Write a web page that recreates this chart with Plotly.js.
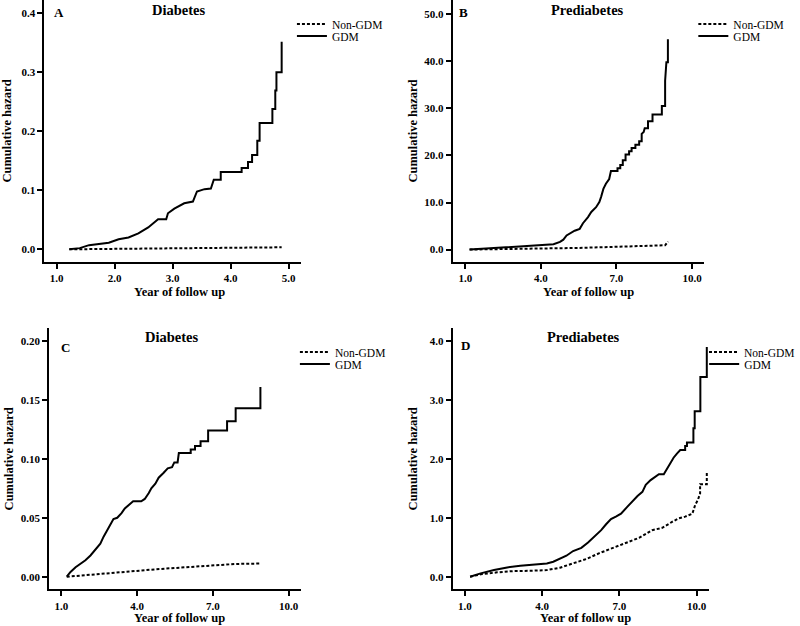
<!DOCTYPE html>
<html>
<head>
<meta charset="utf-8">
<script src="https://cdn.plot.ly/plotly-3.0.1.min.js"></script>
<style>html,body{margin:0;padding:0;background:#fff;}#chart{width:800px;height:626px;}</style>
</head>
<body>
<div id="chart"></div>
<script>
// Panel A: Diabetes (years 1-5)
const aGdmX = [1.22,1.40,1.56,1.75,1.90,2.07,2.24,2.41,2.58,2.75,2.89,2.92,3.03,3.20,3.35,3.42,3.55,3.66,3.71,3.83,3.83,4.19,4.19,4.30,4.30,4.37,4.37,4.46,4.46,4.50,4.50,4.72,4.72,4.77,4.77,4.79,4.79,4.88,4.88];
const aGdmY = [0,0.002,0.007,0.009,0.011,0.017,0.020,0.027,0.037,0.051,0.051,0.061,0.069,0.078,0.081,0.098,0.102,0.103,0.118,0.118,0.131,0.131,0.138,0.138,0.148,0.148,0.160,0.160,0.184,0.184,0.214,0.214,0.238,0.238,0.269,0.269,0.300,0.300,0.352];
const aNonX = [1.22,2.0,3.0,4.0,4.88];
const aNonY = [0,0.0008,0.0016,0.0025,0.0034];

// Panel B: Prediabetes (years 1-10)
const bGdmX = [1.17,1.63,2.28,2.93,3.58,4.23,4.50,4.76,4.89,5.02,5.21,5.34,5.54,5.67,5.87,6.00,6.19,6.32,6.39,6.48,6.58,6.71,6.78,7.04,7.04,7.15,7.15,7.25,7.25,7.36,7.36,7.50,7.50,7.60,7.60,7.75,7.75,7.90,7.90,8.00,8.00,8.08,8.12,8.25,8.25,8.43,8.43,8.80,8.80,8.93,8.93,8.98,9.04,9.04];
const bGdmY = [0,0.14,0.35,0.56,0.78,0.92,1.13,1.62,2.1,3.0,3.6,4.0,4.4,5.6,6.9,8.0,9.0,10.1,11.2,12.9,14.0,15.0,16.7,16.7,17.3,17.3,18.0,18.0,19.0,19.0,20.2,20.2,20.9,20.9,21.6,21.6,22.3,22.3,23.0,23.0,24.6,25.0,25.8,25.8,27.3,27.3,28.7,28.7,30.5,30.5,35.9,39.8,39.8,44.7];
const bNonX = [1.17,2.5,4.23,5.5,6.84,8.0,8.93,9.05];
const bNonY = [0,0.1,0.2,0.35,0.56,0.75,0.92,1.7];

// Panel C: Diabetes (years 1-10)
const cGdmX = [1.21,1.36,1.56,1.76,1.95,2.15,2.34,2.54,2.67,2.80,2.93,3.06,3.21,3.38,3.51,3.68,3.84,4.16,4.30,4.46,4.56,4.72,4.85,5.04,5.21,5.38,5.47,5.60,5.65,6.12,6.12,6.29,6.29,6.51,6.51,6.81,6.81,7.56,7.56,7.90,7.90,8.88,8.88];
const cGdmY = [0,0.004,0.008,0.011,0.014,0.018,0.023,0.028,0.034,0.039,0.044,0.049,0.050,0.054,0.058,0.061,0.064,0.064,0.066,0.071,0.075,0.079,0.084,0.088,0.092,0.093,0.097,0.097,0.105,0.105,0.108,0.108,0.111,0.111,0.115,0.115,0.124,0.124,0.132,0.132,0.143,0.143,0.161];
const cNonX = [1.21,2.0,2.93,3.9,4.88,5.9,6.83,7.88,8.88];
const cNonY = [0,0.0015,0.003,0.0048,0.0065,0.008,0.0093,0.0108,0.0112];

// Panel D: Prediabetes (years 1-10)
const dGdmX = [1.20,1.61,2.13,2.64,3.15,3.66,4.18,4.43,4.69,4.94,5.20,5.52,5.78,6.03,6.29,6.48,6.67,6.86,7.06,7.31,7.50,7.70,7.89,8.02,8.21,8.40,8.53,8.72,8.85,8.98,9.10,9.23,9.36,9.55,9.55,9.62,9.62,9.87,9.87,9.92,9.92,10.14,10.14,10.39,10.39];
const dGdmY = [0,0.057,0.113,0.158,0.187,0.209,0.226,0.255,0.30,0.356,0.436,0.49,0.58,0.68,0.79,0.89,0.98,1.02,1.07,1.19,1.28,1.37,1.44,1.56,1.64,1.70,1.74,1.74,1.84,1.92,2.02,2.09,2.15,2.15,2.22,2.22,2.28,2.28,2.52,2.52,2.81,2.81,3.39,3.39,3.90];
const dNonX = [1.20,1.61,2.25,2.89,3.54,4.18,4.69,5.20,5.71,6.22,6.74,7.25,7.76,8.27,8.66,9.04,9.30,9.55,9.83,9.94,10.04,10.13,10.13,10.39,10.39];
const dNonY = [0,0.04,0.074,0.096,0.10,0.113,0.153,0.226,0.30,0.40,0.49,0.57,0.66,0.79,0.83,0.93,0.99,1.02,1.07,1.22,1.30,1.41,1.57,1.57,1.79];

// Labels
const panelLetters = ['A','B','C','D'];
const panelTitles = ['Diabetes','Prediabetes','Diabetes','Prediabetes'];
const seriesNames = ['Non-GDM','GDM'];
const xTitle = 'Year of follow up';
const yTitle = 'Cumulative hazard';
const aXTicks = [1.0,2.0,3.0,4.0,5.0];
const aYTicks = [0.0,0.1,0.2,0.3,0.4];
const bXTicks = [1.0,4.0,7.0,10.0];
const bYTicks = [0,10,20,30,40,50];
const cYTicks = [0,0.05,0.10,0.15,0.20];
const dYTicks = [0,1,2,3,4];

const FONT = 'Liberation Serif, Times New Roman, serif';
const ax = ['x','x2','x3','x4'];
const ay = ['y','y2','y3','y4'];
const nonData = [[aNonX,aNonY],[bNonX,bNonY],[cNonX,cNonY],[dNonX,dNonY]];
const gdmData = [[aGdmX,aGdmY],[bGdmX,bGdmY],[cGdmX,cGdmY],[dGdmX,dGdmY]];

const traces = [];
for (let i = 0; i < 4; i++) {
  traces.push({x: nonData[i][0], y: nonData[i][1], name: seriesNames[0], type: 'scatter', mode: 'lines',
    line: {color: '#000', width: 2, dash: '3px,2px'}, xaxis: ax[i], yaxis: ay[i], legend: 'legend' + (i === 0 ? '' : (2*i+1))});
  traces.push({x: gdmData[i][0], y: gdmData[i][1], name: seriesNames[1], type: 'scatter', mode: 'lines',
    line: {color: '#000', width: 2}, xaxis: ax[i], yaxis: ay[i], legend: 'legend' + (2*i+2)});
}

function mkX(domain, range, ticks, fmt, anchor) {
  return {domain: domain, range: range, anchor: anchor, tickvals: ticks, ticktext: ticks.map(v => v.toFixed(fmt)),
    showline: true, linecolor: '#000', linewidth: 2, ticks: 'outside', ticklen: 5, tickwidth: 2, tickcolor: '#000',
    showgrid: false, zeroline: false, tickfont: {family: FONT, size: 11, color: '#000', weight: 'bold'}};
}
function mkY(domain, range, ticks, fmt, anchor) {
  return {domain: domain, range: range, anchor: anchor, tickvals: ticks, ticktext: ticks.map(v => v.toFixed(fmt)),
    showline: true, linecolor: '#000', linewidth: 2, ticks: 'outside', ticklen: 5, tickwidth: 2, tickcolor: '#000',
    showgrid: false, zeroline: false, tickfont: {family: FONT, size: 11, color: '#000', weight: 'bold'},
    title: {text: '<b>' + yTitle + '</b>', font: {family: FONT, size: 12.5, color: '#000'}}};
}

const topDom = [0.5815, 1.0];
const botDom = [0.0586, 0.4755];

function mkLegend(xpx, ypx) {
  return {x: xpx/800, y: 1 - ypx/626, xanchor: 'left', yanchor: 'middle', bgcolor: 'rgba(0,0,0,0)', borderwidth: 0,
    font: {family: FONT, size: 11.5, color: '#000'}, tracegroupgap: 0, itemwidth: 30};
}

const ann = [];
const letterPos = [[60,13],[470,13],[66,347],[472,345]];
const titlePos = [[182,10],[596,10],[174,337],[592,337]];
const xTitlePos = [[182,292],[597,292],[182,618],[594,618]];
for (let i = 0; i < 4; i++) {
  ann.push({text: '<b>' + panelLetters[i] + '</b>', xref: 'paper', yref: 'paper', x: letterPos[i][0]/800, y: 1 - letterPos[i][1]/626,
    showarrow: false, xanchor: 'center', yanchor: 'middle', font: {family: FONT, size: 13, color: '#000'}});
  ann.push({text: '<b>' + panelTitles[i] + '</b>', xref: 'paper', yref: 'paper', x: titlePos[i][0]/800, y: 1 - titlePos[i][1]/626,
    showarrow: false, xanchor: 'center', yanchor: 'middle', font: {family: FONT, size: 14.5, color: '#000'}});
  ann.push({text: '<b>' + xTitle + '</b>', xref: 'paper', yref: 'paper', x: xTitlePos[i][0]/800, y: 1 - xTitlePos[i][1]/626,
    showarrow: false, xanchor: 'center', yanchor: 'middle', font: {family: FONT, size: 12.5, color: '#000'}});
}

const layout = {
  width: 800, height: 626, margin: {l: 0, r: 0, t: 0, b: 0},
  paper_bgcolor: '#fff', plot_bgcolor: '#fff', font: {family: FONT, color: '#000'},
  xaxis: mkX([45/800, 305/800], [0.79, 5.21], aXTicks, 1, 'y'),
  yaxis: mkY(topDom, [-0.0215, 0.4226], aYTicks, 1, 'x'),
  xaxis2: mkX([459/800, 714/800], [0.5, 10.48], bXTicks, 1, 'y2'),
  yaxis2: mkY(topDom, [-2.64, 53.05], bYTicks, 1, 'x2'),
  xaxis3: mkX([50/800, 305/800], [0.52, 10.48], bXTicks, 1, 'y3'),
  yaxis3: mkY(botDom, [-0.0107, 0.2108], cYTicks, 2, 'x3'),
  xaxis4: mkX([459/800, 719/800], [0.525, 10.48], bXTicks, 1, 'y4'),
  yaxis4: mkY(botDom, [-0.214, 4.216], dYTicks, 1, 'x4'),
  legend: mkLegend(296, 24),
  legend2: mkLegend(296, 36),
  legend3: mkLegend(703, 24),
  legend4: mkLegend(703, 36),
  legend5: mkLegend(299, 352),
  legend6: mkLegend(299, 364),
  legend7: mkLegend(714, 352),
  legend8: mkLegend(714, 364),
  annotations: ann,
  showlegend: true
};

Plotly.newPlot('chart', traces, layout, {staticPlot: true, displayModeBar: false});
</script>
</body>
</html>
